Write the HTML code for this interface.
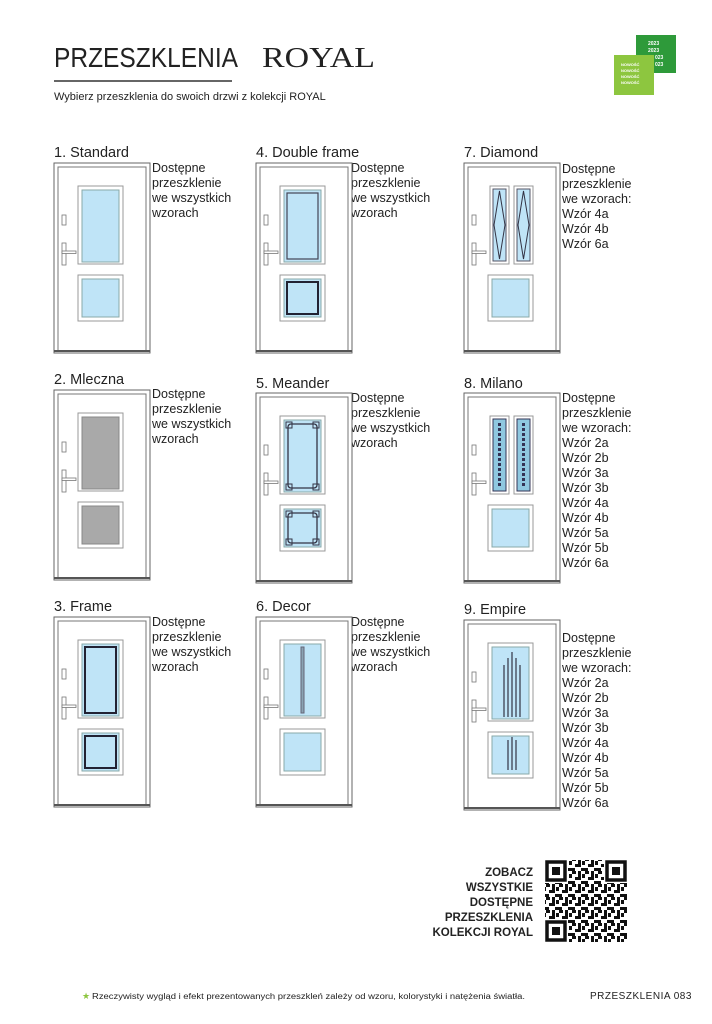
<!DOCTYPE html>
<html><head><meta charset="utf-8"><style>
html,body{margin:0;padding:0;background:#fff}
svg{display:block}
text{font-family:"Liberation Sans",sans-serif;fill:#222}
</style></head><body>
<svg width="712" height="1024" viewBox="0 0 712 1024" xmlns="http://www.w3.org/2000/svg">
<defs>
<g id="door">
  <rect x="0" y="0" width="96" height="190" fill="#fff" stroke="#666" stroke-width="1"/>
  <rect x="4" y="4" width="88" height="184" fill="#fff" stroke="#777" stroke-width="1"/>
  <line x1="0" y1="188" x2="96" y2="188" stroke="#555" stroke-width="2"/>
  <rect x="8" y="52" width="4" height="10" fill="#fff" stroke="#777" stroke-width="0.8"/>
  <rect x="8" y="80" width="4" height="22" fill="#fff" stroke="#777" stroke-width="0.8"/>
  <rect x="8" y="88" width="14" height="2.5" fill="#fff" stroke="#777" stroke-width="0.8"/>
</g>
<g id="topbox">
  <rect x="24" y="23" width="45" height="78" fill="#fff" stroke="#999"/>
  <rect x="28" y="27" width="37" height="72" fill="#bfe4f7" stroke="#8aa"/>
</g>
<g id="botbox">
  <rect x="24" y="112" width="45" height="46" fill="#fff" stroke="#999"/>
  <rect x="28" y="116" width="37" height="38" fill="#bfe4f7" stroke="#8aa"/>
</g>
<pattern id="qrp" width="13" height="13" patternUnits="userSpaceOnUse">
  <rect x="0" y="0" width="4" height="3" fill="#111"/><rect x="6" y="0" width="3" height="6" fill="#111"/>
  <rect x="3" y="6" width="6" height="3" fill="#111"/><rect x="10" y="3" width="3" height="4" fill="#111"/>
  <rect x="0" y="10" width="3" height="3" fill="#111"/><rect x="9" y="10" width="4" height="3" fill="#111"/>
</pattern>
</defs>

<!-- header -->
<text x="54" y="67" font-size="28" textLength="184" lengthAdjust="spacingAndGlyphs" fill="#222">PRZESZKLENIA</text>
<text x="262" y="67" font-size="28" font-family="Liberation Serif, serif" style="font-family:'Liberation Serif',serif" textLength="113" lengthAdjust="spacingAndGlyphs">ROYAL</text>
<line x1="54" y1="81" x2="232" y2="81" stroke="#333" stroke-width="1.5"/>
<text x="54" y="100" font-size="11">Wybierz przeszklenia do swoich drzwi z kolekcji ROYAL</text>
<rect x="636" y="35" width="40" height="38" fill="#2e9a3a"/>
<text x="648" y="45" font-size="5" style="fill:#fff" font-weight="bold">2023</text>
<text x="648" y="52" font-size="5" style="fill:#fff" font-weight="bold">2023</text>
<text x="655" y="59" font-size="5" style="fill:#fff" font-weight="bold">023</text>
<text x="655" y="66" font-size="5" style="fill:#fff" font-weight="bold">023</text>
<rect x="614" y="55" width="40" height="40" fill="#8dc63f"/>
<text x="621" y="66" font-size="4" style="fill:#fff" font-weight="bold">NOWOŚĆ</text>
<text x="621" y="72" font-size="4" style="fill:#fff" font-weight="bold">NOWOŚĆ</text>
<text x="621" y="78" font-size="4" style="fill:#fff" font-weight="bold">NOWOŚĆ</text>
<text x="621" y="84" font-size="4" style="fill:#fff" font-weight="bold">NOWOŚĆ</text>

<!-- labels -->
<g font-size="14.5">
<text x="54" y="157">1. Standard</text><text x="256" y="157">4. Double frame</text><text x="464" y="157">7. Diamond</text>
<text x="54" y="384">2. Mleczna</text><text x="256" y="388">5. Meander</text><text x="464" y="388">8. Milano</text>
<text x="54" y="611">3. Frame</text><text x="256" y="611">6. Decor</text><text x="464" y="614">9. Empire</text>
</g>
<g font-size="12.5" fill="#333">
<text x="152" y="172">Dostępne</text><text x="152" y="187">przeszklenie</text><text x="152" y="202">we wszystkich</text><text x="152" y="217">wzorach</text>
<text x="351" y="172">Dostępne</text><text x="351" y="187">przeszklenie</text><text x="351" y="202">we wszystkich</text><text x="351" y="217">wzorach</text>
<text x="562" y="173">Dostępne</text><text x="562" y="188">przeszklenie</text><text x="562" y="203">we wzorach:</text><text x="562" y="218">Wzór 4a</text><text x="562" y="233">Wzór 4b</text><text x="562" y="248">Wzór 6a</text>
<text x="152" y="398">Dostępne</text><text x="152" y="413">przeszklenie</text><text x="152" y="428">we wszystkich</text><text x="152" y="443">wzorach</text>
<text x="351" y="402">Dostępne</text><text x="351" y="417">przeszklenie</text><text x="351" y="432">we wszystkich</text><text x="351" y="447">wzorach</text>
<text x="562" y="402">Dostępne</text><text x="562" y="417">przeszklenie</text><text x="562" y="432">we wzorach:</text>
<text x="562" y="447">Wzór 2a</text><text x="562" y="462">Wzór 2b</text><text x="562" y="477">Wzór 3a</text><text x="562" y="492">Wzór 3b</text><text x="562" y="507">Wzór 4a</text><text x="562" y="522">Wzór 4b</text><text x="562" y="537">Wzór 5a</text><text x="562" y="552">Wzór 5b</text><text x="562" y="567">Wzór 6a</text>
<text x="152" y="626">Dostępne</text><text x="152" y="641">przeszklenie</text><text x="152" y="656">we wszystkich</text><text x="152" y="671">wzorach</text>
<text x="351" y="626">Dostępne</text><text x="351" y="641">przeszklenie</text><text x="351" y="656">we wszystkich</text><text x="351" y="671">wzorach</text>
<text x="562" y="642">Dostępne</text><text x="562" y="657">przeszklenie</text><text x="562" y="672">we wzorach:</text>
<text x="562" y="687">Wzór 2a</text><text x="562" y="702">Wzór 2b</text><text x="562" y="717">Wzór 3a</text><text x="562" y="732">Wzór 3b</text><text x="562" y="747">Wzór 4a</text><text x="562" y="762">Wzór 4b</text><text x="562" y="777">Wzór 5a</text><text x="562" y="792">Wzór 5b</text><text x="562" y="807">Wzór 6a</text>
</g>

<g transform="translate(54,163)"><use href="#door"/><use href="#topbox"/><use href="#botbox"/></g>
<g transform="translate(54,390)"><use href="#door"/>
  <rect x="24" y="23" width="45" height="78" fill="#fff" stroke="#999"/><rect x="28" y="27" width="37" height="72" fill="#a9a9a9" stroke="#888"/>
  <rect x="24" y="112" width="45" height="46" fill="#fff" stroke="#999"/><rect x="28" y="116" width="37" height="38" fill="#a9a9a9" stroke="#888"/></g>
<g transform="translate(54,617)"><use href="#door"/><use href="#topbox"/><use href="#botbox"/>
  <rect x="31" y="30" width="31" height="66" fill="none" stroke="#223" stroke-width="2"/>
  <rect x="31" y="119" width="31" height="32" fill="none" stroke="#223" stroke-width="2"/></g>
<g transform="translate(256,163)"><use href="#door"/><use href="#topbox"/><use href="#botbox"/>
  <rect x="31" y="30" width="31" height="66" fill="none" stroke="#445" stroke-width="1.2"/>
  <rect x="31" y="119" width="31" height="32" fill="none" stroke="#223" stroke-width="2"/></g>
<g transform="translate(256,393)"><use href="#door"/><use href="#topbox"/><use href="#botbox"/>
  <rect x="32" y="31" width="29" height="64" rx="3" fill="none" stroke="#334" stroke-width="1.3"/>
  <rect x="32" y="120" width="29" height="30" rx="3" fill="none" stroke="#334" stroke-width="1.3"/>
  <path d="M30 29h6v6h-6zM57 29h6v6h-6zM30 91h6v6h-6zM57 91h6v6h-6zM30 118h6v6h-6zM57 118h6v6h-6zM30 146h6v6h-6zM57 146h6v6h-6z" fill="none" stroke="#334"/></g>
<g transform="translate(256,617)"><use href="#door"/><use href="#topbox"/><use href="#botbox"/>
  <rect x="45" y="30" width="3" height="66" fill="#8aa3b3" stroke="#667"/></g>
<g transform="translate(464,163)"><use href="#door"/>
  <rect x="26" y="23" width="19" height="78" fill="#fff" stroke="#999"/><rect x="29" y="26" width="13" height="72" fill="#bfe4f7" stroke="#556"/>
  <rect x="50" y="23" width="19" height="78" fill="#fff" stroke="#999"/><rect x="53" y="26" width="13" height="72" fill="#bfe4f7" stroke="#556"/>
  <path d="M35.5 28L41 62L35.5 96L30 62Z M59.5 28L65 62L59.5 96L54 62Z" fill="none" stroke="#334"/>
  <use href="#botbox"/></g>
<g transform="translate(464,393)"><use href="#door"/>
  <rect x="26" y="23" width="19" height="78" fill="#fff" stroke="#999"/><rect x="29" y="26" width="13" height="72" fill="#8fc8e0" stroke="#335"/>
  <rect x="50" y="23" width="19" height="78" fill="#fff" stroke="#999"/><rect x="53" y="26" width="13" height="72" fill="#8fc8e0" stroke="#335"/>
  <line x1="35.5" y1="30" x2="35.5" y2="94" stroke="#335" stroke-width="3" stroke-dasharray="3 2"/>
  <line x1="59.5" y1="30" x2="59.5" y2="94" stroke="#335" stroke-width="3" stroke-dasharray="3 2"/>
  <use href="#botbox"/></g>
<g transform="translate(464,620)"><use href="#door"/><use href="#topbox"/><use href="#botbox"/>
  <path d="M40 97V45M44 97V38M48 97V32M52 97V38M56 97V45M44 150V120M48 150V117M52 150V120" stroke="#334" stroke-width="1.2" fill="none"/></g>

<g font-size="11.5" font-weight="bold" text-anchor="end">
<text x="533" y="876">ZOBACZ</text><text x="533" y="891">WSZYSTKIE</text><text x="533" y="906">DOSTĘPNE</text><text x="533" y="921">PRZESZKLENIA</text><text x="533" y="936">KOLEKCJI ROYAL</text>
</g>
<rect x="545" y="860" width="82" height="82" fill="url(#qrp)"/>
<g fill="#fff"><rect x="544" y="859" width="24" height="24"/><rect x="604" y="859" width="24" height="24"/><rect x="544" y="919" width="24" height="24"/></g>
<g fill="none" stroke="#111" stroke-width="3.5"><rect x="547" y="862" width="18" height="18"/><rect x="607" y="862" width="18" height="18"/><rect x="547" y="922" width="18" height="18"/></g>
<g fill="#111"><rect x="552" y="867" width="8" height="8"/><rect x="612" y="867" width="8" height="8"/><rect x="552" y="927" width="8" height="8"/></g>

<text x="82" y="999" font-size="9" style="fill:#8dc63f">★</text>
<text x="92" y="999" font-size="8" fill="#333" textLength="433" lengthAdjust="spacingAndGlyphs">Rzeczywisty wygląd i efekt prezentowanych przeszkleń zależy od wzoru, kolorystyki i natężenia światła.</text>
<text x="590" y="999" font-size="10" fill="#444" letter-spacing="0.5">PRZESZKLENIA  083</text>
</svg>
</body></html>
